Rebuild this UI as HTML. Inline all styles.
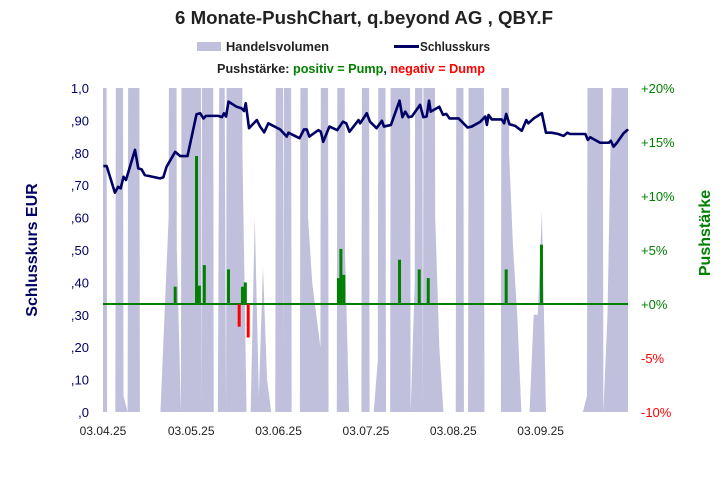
<!DOCTYPE html>
<html><head><meta charset="utf-8"><style>
html,body{margin:0;padding:0;background:#fff;}
svg{display:block;font-family:"Liberation Sans",sans-serif;}
</style></head><body>
<svg id="chart" width="726" height="481" viewBox="0 0 726 481" xmlns="http://www.w3.org/2000/svg">
<text x="175" y="24" font-size="18" font-weight="bold" fill="#222" textLength="378" lengthAdjust="spacingAndGlyphs">6 Monate-PushChart,  q.beyond AG , QBY.F</text>
<g>
<rect x="197" y="42" width="24" height="9" fill="#c0c0dc"/>
<text x="226" y="51" font-size="13" font-weight="bold" fill="#222" textLength="103" lengthAdjust="spacingAndGlyphs">Handelsvolumen</text>
<rect x="394" y="45" width="25" height="3" fill="#000066"/>
<text x="420" y="51" font-size="13" font-weight="bold" fill="#222" textLength="70" lengthAdjust="spacingAndGlyphs">Schlusskurs</text>
<text x="217" y="73" font-size="13" font-weight="bold" textLength="268" lengthAdjust="spacingAndGlyphs"><tspan fill="#222">Pushstärke: </tspan><tspan fill="#008000">positiv = Pump</tspan><tspan fill="#222">, </tspan><tspan fill="#ff0000">negativ = Dump</tspan></text>
</g>
<text transform="translate(37,250) rotate(-90)" text-anchor="middle" font-size="16" font-weight="bold" fill="#000066">Schlusskurs EUR</text>
<text transform="translate(710,233) rotate(-90)" text-anchor="middle" font-size="16" font-weight="bold" fill="#008000">Pushstärke</text>
<defs><clipPath id="plotClip"><rect x="103" y="88" width="525" height="324"/></clipPath></defs>
<g id="vol" clip-path="url(#plotClip)"></g>
<g id="bars"></g>
<g id="line"></g>
<g id="axes"></g>
</svg>
<script>
const volume = [8,0,0,0,8,0.05,0,8,8,0,0,0,0,0,0,0.3,0.6,8,0.5,0,8,8,8,8,0,8,8,0,0,3,0,8,8,8,0.8,0,0,0.6,0.05,0.45,0.1,0,0,8,0.2,8,0,0,0,8,0.6,0.4,0.3,0.2,8,0,0,0,8,0.5,0,0,0,0,8,0,0,0.16,8,0,0,8,8,8,8,0,0.4,8,0,8,8,0.6,0.2,0,0,0,0,8,0,0,8,8,8,0,0,0,0,0,8,0.8,0.5,0.3,0,0,0,0.3,0.3,0.62,0,0,0,0,0,0,0,0,0,0,0.05,8,8,8,0,0.3,1,8,8,8,8];
const closeDay = [0.1,0.9,2.9,3.7,4.3,5.0,5.6,7.8,8.6,9.4,10.2,13.9,14.7,15.5,17.6,18.8,20.6,22.8,23.7,24.5,25.1,28.1,29.0,29.5,30.0,30.6,32.6,33.8,34.4,34.8,35.6,37.5,38.3,39.3,40.3,43.2,44.8,45.2,47.9,49.0,49.7,50.3,52.5,53.1,53.7,55.2,57.1,58.5,59.3,60.1,62.3,62.7,64.3,65.1,66.7,68.0,68.5,70.2,72.3,73.0,73.7,74.5,75.3,77.3,78.1,78.9,79.5,79.9,82.0,82.9,83.7,84.5,86.7,87.5,88.9,89.9,92.0,93.2,93.6,94.0,94.8,97.2,97.8,98.3,99.1,100.5,102.1,103.2,103.7,105.0,107.0,108.0,109.4,111.0,112.3,113.2,113.9,117.6,118.2,118.8,121.2,123.3,123.8,124.5,125.3,126.9,127.8,128.0];
const closeVal = [0.759,0.759,0.677,0.695,0.690,0.726,0.716,0.809,0.752,0.749,0.731,0.721,0.724,0.757,0.803,0.790,0.790,0.919,0.922,0.906,0.914,0.914,0.910,0.922,0.912,0.958,0.942,0.937,0.929,0.953,0.876,0.901,0.881,0.863,0.891,0.872,0.850,0.862,0.845,0.872,0.872,0.850,0.870,0.865,0.834,0.881,0.870,0.896,0.891,0.865,0.901,0.891,0.922,0.896,0.876,0.899,0.881,0.886,0.961,0.910,0.927,0.910,0.912,0.948,0.910,0.912,0.961,0.927,0.942,0.917,0.920,0.906,0.906,0.896,0.878,0.881,0.896,0.912,0.886,0.917,0.903,0.903,0.891,0.920,0.888,0.883,0.868,0.901,0.891,0.906,0.922,0.862,0.862,0.858,0.852,0.862,0.858,0.858,0.840,0.848,0.831,0.831,0.837,0.819,0.831,0.860,0.870,0.867];
const pushDay = [17.6,22.8,23.5,24.7,30.6,33.2,34.0,34.7,35.4,57.4,58.0,58.7,72.3,77.1,79.3,98.3,106.9];
const pushVal = [1.6,13.7,1.7,3.6,3.2,-2.1,1.6,2.0,-3.1,2.4,5.1,2.7,4.1,3.2,2.4,3.2,5.5];
const leftTicks = [0,0.1,0.2,0.3,0.4,0.5,0.6,0.7,0.8,0.9,1.0];
const leftLabels = [",0",",10",",20",",30",",40",",50",",60",",70",",80",",90","1,0"];
const rightTicks = [-10,-5,0,5,10,15,20];
const rightLabels = ["-10%","-5%","+0%","+5%","+10%","+15%","+20%"];
const xTickDays = [0,21.5,42.8,64.1,85.4,106.7];
const xTickLabels = ["03.04.25","03.05.25","03.06.25","03.07.25","03.08.25","03.09.25"];

const NS="http://www.w3.org/2000/svg";
const X0=103,X1=628,Y0=412,Y1=88,DMAX=128;
const xs=d=>X0+(X1-X0)*d/DMAX;
const yL=v=>Y0-(Y0-Y1)*v/1.0;
const yR=p=>Y0-(Y0-Y1)*(p+10)/30;
const yV=v=>Y0-(Y0-Y1)*v/1.0;
function mk(tag,attrs,parent){const e=document.createElementNS(NS,tag);for(const k in attrs)e.setAttribute(k,attrs[k]);parent.appendChild(e);return e;}

const gv=document.getElementById('vol');
let pts=[xs(0)+','+Y0];
volume.forEach((v,i)=>{pts.push(xs(i)+','+yV(v));});
pts.push(xs(volume.length-1)+','+Y0);
const va=mk('polygon',{points:pts.join(' '),fill:'#c0c0dc'},gv);



const ax=document.getElementById('axes');
const zl=mk('line',{x1:X0,x2:X1,y1:yR(0),y2:yR(0),stroke:'#008000','stroke-width':2},document.getElementById('bars'));



const gb=document.getElementById('bars');
pushDay.forEach((d,i)=>{const v=pushVal[i];const y=Math.min(yR(0),yR(v));const h=Math.abs(yR(v)-yR(0));
const r=mk('rect',{x:xs(d)-1.5,y:y,width:3,height:h,fill:v>=0?'#008000':'#ff0000'},gb);

});

const gl=document.getElementById('line');
const lp=mk('polyline',{points:closeDay.map((d,i)=>xs(d)+','+yL(closeVal[i])).join(' '),fill:'none',stroke:'#000066','stroke-width':2.6,'stroke-linejoin':'round'},gl);



leftTicks.forEach((t,i)=>{const e=mk('text',{x:89,y:yL(t)+5,'text-anchor':'end','font-size':13,fill:'#000066'},ax);e.textContent=leftLabels[i];

});
rightTicks.forEach((t,i)=>{const e=mk('text',{x:641,y:yR(t)+5,'font-size':13,fill:t<0?'#ff0000':'#008000'},ax);e.textContent=rightLabels[i];

});
xTickDays.forEach((d,i)=>{const e=mk('text',{x:xs(d),y:435,'text-anchor':'middle','font-size':12,fill:'#222'},ax);e.textContent=xTickLabels[i];

});
</script>
</body></html>
